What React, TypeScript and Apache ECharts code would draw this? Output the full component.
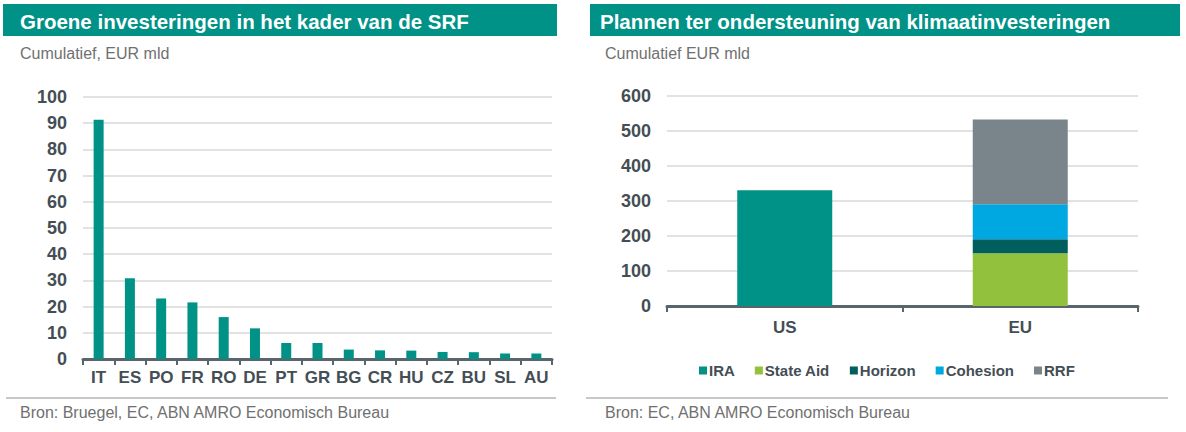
import React, { useEffect, useRef } from "react";
import * as echarts from "echarts";

const leftCategories = ["IT", "ES", "PO", "FR", "RO", "DE", "PT", "GR", "BG", "CR", "HU", "CZ", "BU", "SL", "AU"];
const leftValues = [91.3, 30.8, 23.1, 21.6, 16.0, 11.7, 6.1, 6.1, 3.6, 3.3, 3.2, 2.7, 2.6, 2.1, 2.1];

const rightCategories = ["US", "EU"];
const iraValues = [331, "-"];
const stateAidValues = ["-", 151];
const horizonValues = ["-", 40];
const cohesionValues = ["-", 100];
const rrfValues = ["-", 242];

const TEAL = "#009286";
const LIME = "#92C13E";
const DARKTEAL = "#005E5D";
const CYAN = "#00A8E1";
const GREY = "#7A848B";
const AXIS_TEXT = "#444E55";
const FONT = "'Liberation Sans', Arial, sans-serif";

export default function App() {
  const ref = useRef<HTMLDivElement>(null);
  useEffect(() => {
    document.body.style.margin = "0";
    const chart = echarts.init(ref.current!, null, { renderer: "svg" });
    const axisLabel = { color: AXIS_TEXT, fontWeight: "bold", fontSize: 18, fontFamily: FONT };
    const option: any = {
      animation: false,
      textStyle: { fontFamily: FONT },
      legend: {
        data: ["IRA", "State Aid", "Horizon", "Cohesion", "RRF"],
        left: 699,
        top: 363,
        padding: 0,
        itemWidth: 8,
        itemHeight: 8,
        itemGap: 20,
        icon: "rect",
        textStyle: { color: AXIS_TEXT, fontWeight: "bold", fontSize: 15, fontFamily: FONT, padding: [0, 0, 0, -3] },
      },
      grid: [
        { left: 83, right: 634, top: 97, bottom: 73 },
        { left: 667, right: 48, top: 96, bottom: 126 },
      ],
      xAxis: [
        {
          type: "category",
          gridIndex: 0,
          data: leftCategories,
          axisLine: { lineStyle: { color: "#5A646B", width: 3 } },
          axisTick: { show: true, length: 6, lineStyle: { color: "#5A646B", width: 2 } },
          axisLabel: { ...axisLabel, fontSize: 17, margin: 10, interval: 0 },
        },
        {
          type: "category",
          gridIndex: 1,
          data: rightCategories,
          axisLine: { lineStyle: { color: "#5A646B", width: 3 } },
          axisTick: { show: true, length: 6, lineStyle: { color: "#5A646B", width: 2 } },
          axisLabel: { ...axisLabel, fontSize: 17, margin: 13, interval: 0 },
        },
      ],
      yAxis: [
        {
          type: "value",
          gridIndex: 0,
          min: 0,
          max: 100,
          interval: 10,
          axisLine: { show: false },
          axisTick: { show: false },
          splitLine: { lineStyle: { color: "#D9D9D9", width: 1.5 } },
          axisLabel: { ...axisLabel, margin: 16 },
        },
        {
          type: "value",
          gridIndex: 1,
          min: 0,
          max: 600,
          interval: 100,
          axisLine: { show: false },
          axisTick: { show: false },
          splitLine: { lineStyle: { color: "#D9D9D9", width: 1.5 } },
          axisLabel: { ...axisLabel, margin: 16 },
        },
      ],
      series: [
        {
          type: "bar",
          xAxisIndex: 0,
          yAxisIndex: 0,
          data: leftValues,
          barWidth: 10,
          itemStyle: { color: TEAL },
        },
        { name: "IRA", type: "bar", stack: "s", xAxisIndex: 1, yAxisIndex: 1, data: iraValues, barWidth: 95, itemStyle: { color: TEAL } },
        { name: "State Aid", type: "bar", stack: "s", xAxisIndex: 1, yAxisIndex: 1, data: stateAidValues, barWidth: 95, itemStyle: { color: LIME } },
        { name: "Horizon", type: "bar", stack: "s", xAxisIndex: 1, yAxisIndex: 1, data: horizonValues, barWidth: 95, itemStyle: { color: DARKTEAL } },
        { name: "Cohesion", type: "bar", stack: "s", xAxisIndex: 1, yAxisIndex: 1, data: cohesionValues, barWidth: 95, itemStyle: { color: CYAN } },
        { name: "RRF", type: "bar", stack: "s", xAxisIndex: 1, yAxisIndex: 1, data: rrfValues, barWidth: 95, itemStyle: { color: GREY } },
      ],
      graphic: [
        { type: "rect", shape: { x: 3, y: 4, width: 554, height: 32 }, style: { fill: TEAL } },
        { type: "rect", shape: { x: 590, y: 4, width: 590, height: 32 }, style: { fill: TEAL } },
        {
          type: "text", x: 20, y: 21,
          style: { text: "Groene investeringen in het kader van de SRF", fill: "#fff", fontWeight: "bold", fontSize: 20.5, fontFamily: FONT, verticalAlign: "middle" },
        },
        {
          type: "text", x: 600, y: 21,
          style: { text: "Plannen ter ondersteuning van klimaatinvesteringen", fill: "#fff", fontWeight: "bold", fontSize: 20.5, fontFamily: FONT, verticalAlign: "middle" },
        },
        {
          type: "text", x: 20, y: 53,
          style: { text: "Cumulatief, EUR mld", fill: "#707070", fontSize: 16, fontFamily: FONT, verticalAlign: "middle" },
        },
        {
          type: "text", x: 605, y: 53,
          style: { text: "Cumulatief EUR mld", fill: "#707070", fontSize: 16, fontFamily: FONT, verticalAlign: "middle" },
        },
        { type: "line", shape: { x1: 6, y1: 398, x2: 556, y2: 398 }, style: { stroke: "#C8C8C8", lineWidth: 2 } },
        { type: "line", shape: { x1: 586, y1: 398, x2: 1168, y2: 398 }, style: { stroke: "#C8C8C8", lineWidth: 2 } },
        {
          type: "text", x: 20, y: 412,
          style: { text: "Bron: Bruegel, EC, ABN AMRO Economisch Bureau", fill: "#707070", fontSize: 16, fontFamily: FONT, verticalAlign: "middle" },
        },
        {
          type: "text", x: 605, y: 412,
          style: { text: "Bron: EC, ABN AMRO Economisch Bureau", fill: "#707070", fontSize: 16, fontFamily: FONT, verticalAlign: "middle" },
        },
      ],
    };
    chart.setOption(option);
    return () => chart.dispose();
  }, []);
  return <div ref={ref} style={{ position: "absolute", left: 0, top: 0, width: 1186, height: 432, background: "#fff" }} />;
}
